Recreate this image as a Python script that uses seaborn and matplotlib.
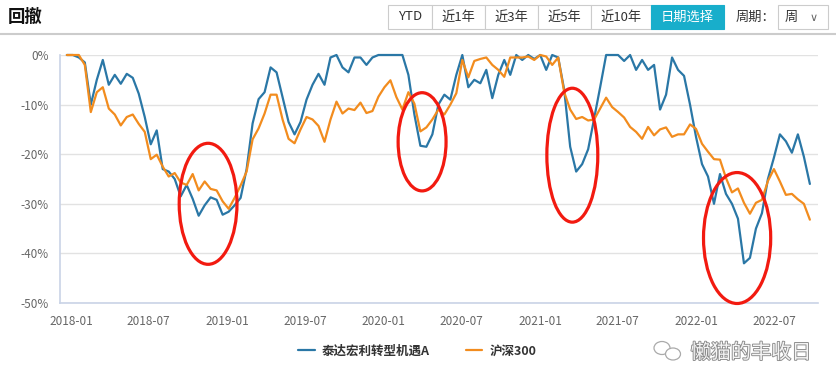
import matplotlib
matplotlib.use('Agg')
import pandas as pd
import matplotlib.pyplot as plt
import matplotlib.dates as mdates
import matplotlib.patheffects as pe
from matplotlib.patches import Ellipse, Rectangle
import seaborn as sns

# drawdown data (biweekly, %)
dates = pd.date_range('2017-12-22', periods=125, freq='14D')

fund = [0, 0, -0.5, -1.5, -10.0, -5.0, -1.0, -6.0, -4.0, -5.8,
        -3.8, -4.6, -7.8, -12.5, -18.0, -15.2, -23.0, -23.5, -25.0, -28.5,
        -26.2, -29.0, -32.4, -30.3, -28.7, -29.2, -32.2, -31.6, -30.3, -28.8,
        -23.0, -13.8, -8.9, -7.5, -2.5, -3.5, -8.5, -13.5, -16.0, -13.5,
        -9.0, -6.0, -3.8, -6.0, -0.5, 0, -2.5, -3.5, -0.5, -0.5,
        -2.0, -0.5, 0, 0, 0, 0, 0, -4.0, -12.0, -18.3,
        -18.5, -16.0, -10.0, -8.0, -9.0, -4.0, 0, -6.5, -5.0, -5.7,
        -3.0, -8.7, -4.0, -1.0, -4.0, 0, -1.0, 0, -0.8, 0,
        -3.0, 0, -0.5, -7.0, -18.5, -23.5, -22.0, -19.0, -12.8, -6.5,
        0, 0, 0, -1.2, 0, -3.0, -1.0, -3.0, -2.0, -11.0,
        -8.0, -0.5, -3.0, -4.2, -10.0, -16.5, -22.0, -24.5, -30.0, -24.0,
        -28.0, -30.0, -33.0, -42.0, -40.9, -35.0, -31.9, -25.0, -20.7, -16.0,
        -17.4, -19.7, -16.0, -20.5, -26.0]

hs300 = [0, 0, 0, -2.0, -11.5, -7.5, -6.5, -10.8, -12.0, -14.2,
         -12.5, -12.0, -13.9, -15.5, -21.0, -20.1, -22.5, -24.5, -23.8, -25.7,
         -26.2, -24.0, -27.3, -25.5, -27.0, -27.3, -29.5, -31.0, -28.8, -26.3,
         -23.5, -17.0, -14.8, -11.8, -8.0, -8.0, -13.0, -16.9, -17.8, -15.0,
         -12.5, -13.0, -14.3, -17.5, -13.0, -9.4, -11.8, -10.8, -11.1, -9.6,
         -11.7, -11.3, -8.4, -6.5, -5.1, -8.5, -11.0, -7.5, -9.8, -15.4,
         -14.6, -13.0, -11.0, -12.0, -10.0, -7.7, -1.0, -4.5, -1.2, -0.8,
         -0.5, -2.0, -3.0, -4.4, -0.5, -0.5, -0.5, -0.3, -1.0, 0,
         -0.3, -2.0, -0.5, -7.5, -11.0, -12.9, -12.5, -13.2, -13.0, -10.8,
         -8.6, -10.5, -11.5, -12.6, -14.5, -15.5, -16.9, -14.5, -16.2, -15.0,
         -14.6, -16.5, -16.0, -16.0, -14.0, -14.9, -17.9, -19.5, -21.0, -21.1,
         -24.8, -27.7, -26.9, -29.8, -32.0, -29.8, -29.2, -25.4, -23.0, -25.5,
         -28.2, -28.0, -29.1, -30.0, -33.2]

series_names = ['泰达宏利转型机遇A', '沪深300']
colors = ['#2a77a6', '#f28c1e']
tick_dates = pd.date_range('2018-01-01', '2022-07-01', freq='6MS')
y_ticks = [0, -10, -20, -30, -40, -50]
buttons = ['YTD', '近1年', '近3年', '近5年', '近10年', '日期选择']

# hand-drawn red circles (center date, center %, width days, height %)
circles = [('2018-11-17', -30.0, 135, 24.4),
           ('2020-03-31', -17.5, 112, 19.8),
           ('2021-03-17', -20.2, 119, 27.0),
           ('2022-04-06', -36.9, 157, 26.4)]

df = pd.DataFrame({
    'date': list(dates) * 2,
    'value': fund + hs300,
    'series': [series_names[0]] * len(fund) + [series_names[1]] * len(hs300),
})

sns.set_style('white')
plt.rcParams['font.family'] = ['Noto Sans CJK SC', 'DejaVu Sans']

fig = plt.figure(figsize=(8.37, 3.68), dpi=100)
W, H = 837, 368
ax = fig.add_axes([60 / W, 1 - 303 / H, 758 / W, 248 / H])

sns.lineplot(data=df, x='date', y='value', hue='series', palette=colors,
             linewidth=1.6, ax=ax)
for ln in ax.lines:
    ln.set_clip_on(False)

ax.set_xlim(pd.Timestamp('2017-12-06'), pd.Timestamp('2022-10-12'))
ax.set_ylim(-50, 0)
ax.set_xticks(tick_dates)
ax.xaxis.set_major_formatter(mdates.DateFormatter('%Y-%m'))
ax.set_yticks(y_ticks)
ax.set_yticklabels([f'{v}%' for v in y_ticks])
ax.set_xlabel('')
ax.set_ylabel('')
ax.yaxis.grid(True, color='#e2e2e2', linewidth=1)
ax.set_axisbelow(True)
for s in ['top', 'right']:
    ax.spines[s].set_visible(False)
for s in ['left', 'bottom']:
    ax.spines[s].set_color('#c9d3e6')
    ax.spines[s].set_linewidth(1.2)
ax.tick_params(axis='both', length=5, width=1, color='#c9d3e6',
               labelcolor='#666666', labelsize=8.5)
ax.tick_params(axis='y', pad=3)

for d, v, w, h in circles:
    ax.add_patch(Ellipse((mdates.date2num(pd.Timestamp(d)), v), w, h,
                         fill=False, edgecolor='#f21a10', linewidth=2.3,
                         clip_on=False, zorder=5))

sns.move_legend(ax, 'center', bbox_to_anchor=(0.471, -0.194), ncol=2,
                frameon=False, title=None, handlelength=1.2,
                columnspacing=2.6, handletextpad=0.5)
for t in ax.get_legend().get_texts():
    t.set_fontsize(9)
    t.set_fontweight('bold')
    t.set_color('#333333')

# header
fig.text(8 / W, 1 - 17 / H, '回撤', fontsize=12.5, fontweight='bold',
         va='center', ha='left', color='#111111')
fig.add_artist(plt.Line2D([0, 1], [1 - 34 / H, 1 - 34 / H],
                          color='#cccccc', linewidth=1.5))
edges = [388, 432, 485, 538, 591, 651, 724]
for i, b in enumerate(buttons):
    x0, x1 = edges[i], edges[i + 1]
    active = b == '日期选择'
    fig.add_artist(Rectangle((x0 / W, 1 - 29 / H), (x1 - x0) / W, 24 / H,
                             transform=fig.transFigure,
                             facecolor='#18aecb' if active else 'white',
                             edgecolor='#18aecb' if active else '#cccccc',
                             linewidth=0.8))
    fig.text((x0 + x1) / 2 / W, 1 - 17 / H, b, fontsize=9.5,
             ha='center', va='center',
             color='white' if active else '#333333')
fig.text(736 / W, 1 - 17 / H, '周期：', fontsize=9.5, ha='left',
         va='center', color='#333333')
fig.add_artist(Rectangle((778 / W, 1 - 29 / H), 50 / W, 24 / H,
                         transform=fig.transFigure, facecolor='white',
                         edgecolor='#cccccc', linewidth=0.8))
fig.text(785 / W, 1 - 17 / H, '周', fontsize=9.5, ha='left', va='center',
         color='#333333')
fig.text(814 / W, 1 - 18 / H, '∨', fontsize=8, ha='center', va='center',
         color='#666666', family=['DejaVu Sans'])

# watermark
fig.add_artist(Ellipse((662 / W, 1 - 348 / H), 16 / W, 13 / H,
                       transform=fig.transFigure, fill=False,
                       edgecolor='#aaaaaa', linewidth=0.9))
fig.add_artist(Ellipse((673 / W, 1 - 354 / H), 15 / W, 12 / H,
                       transform=fig.transFigure, facecolor='white',
                       edgecolor='#aaaaaa', linewidth=0.9))
fig.text(751 / W, 1 - 353 / H, '懒猫的丰收日', fontsize=14.5, ha='center',
         va='center', color='#f4f4f4',
         path_effects=[pe.withStroke(linewidth=1.3, foreground='#8a8a8a')])

fig.savefig('out.png', dpi=100)
